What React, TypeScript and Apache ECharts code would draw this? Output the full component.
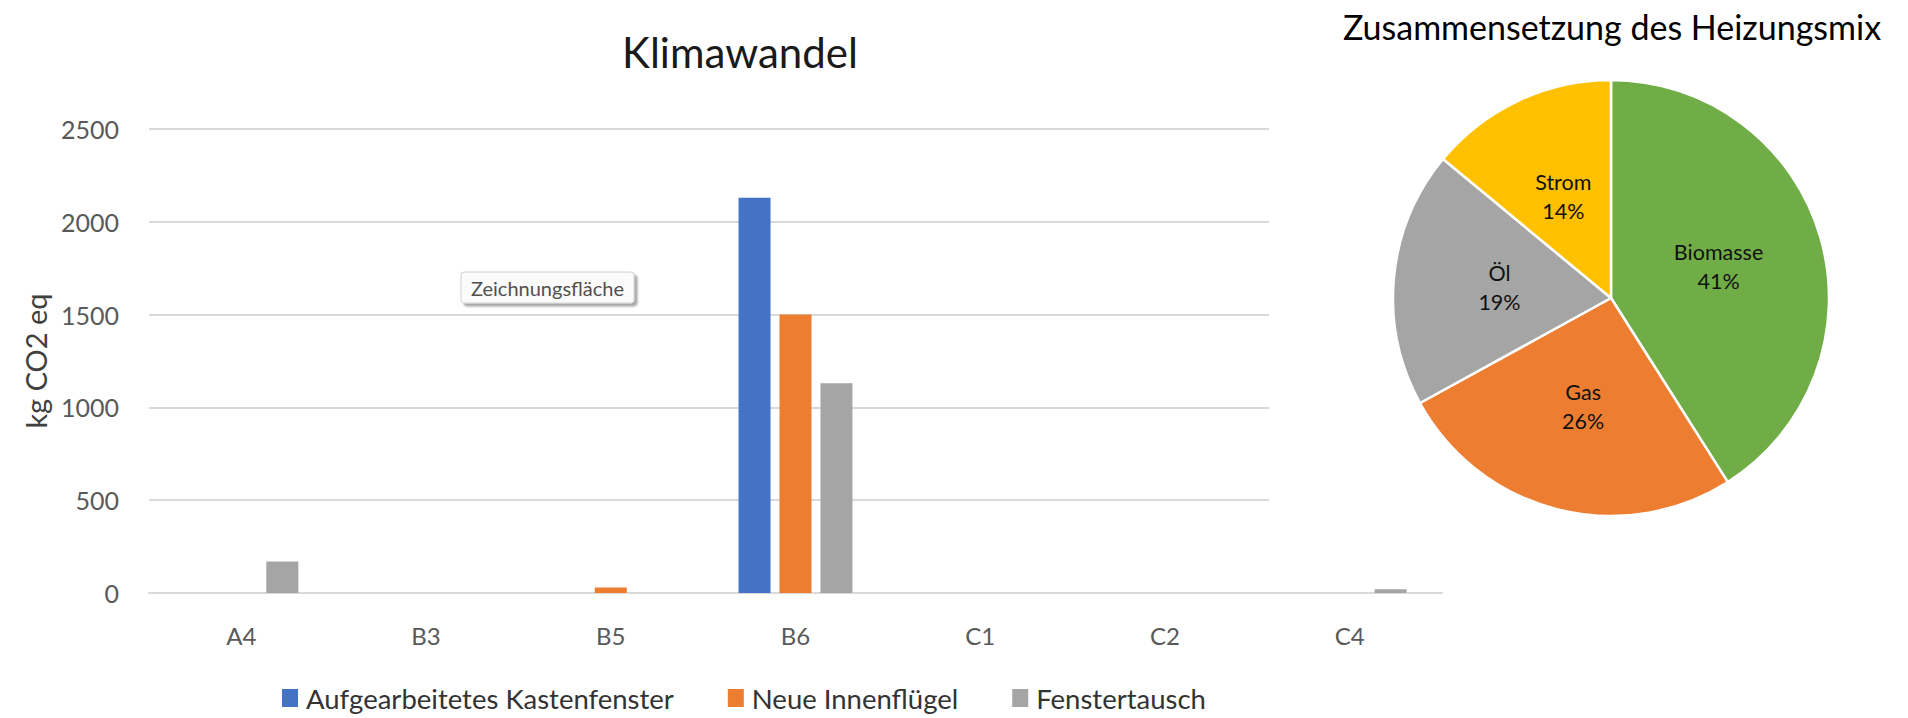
import { useEffect, useRef } from "react";
import * as echarts from "echarts";

// Klimawandel: emissions per building component (kg CO2 eq)
const categories = ["A4", "B3", "B5", "B6", "C1", "C2", "C4"];
const kastenfenster = [0, 0, 0, 2130, 0, 0, 0];
const innenfluegel = [0, 0, 30, 1500, 0, 0, 0];
const fenstertausch = [170, 0, 0, 1130, 0, 0, 20];
const seriesNames = ["Aufgearbeitetes Kastenfenster", "Neue Innenflügel", "Fenstertausch"];
const yMin = 0;
const yMax = 2500;
const yStep = 500;

// Heating mix shares (%)
const heatingSources = ["Biomasse", "Gas", "Öl", "Strom"];
const heatingShares = [41, 26, 19, 14];

const FONT = "Lato, 'Open Sans', sans-serif";
const barColors = ["#4472C4", "#ED7D31", "#A5A5A5"];
const pieColors = ["#70AD47", "#ED7D31", "#A5A5A5", "#FFC000"];

function hint(x: number, y: number, w: number, h: number, label: string, size: number) {
  return {
    type: "group",
    x,
    y,
    z: 100,
    children: [
      {
        type: "rect",
        shape: { x: 0, y: 0, width: w, height: h, r: 3 },
        style: {
          fill: "#fbfbfb",
          stroke: "#d0d0d0",
          lineWidth: 1,
          shadowBlur: 2,
          shadowOffsetX: 3,
          shadowOffsetY: 3,
          shadowColor: "rgba(0,0,0,0.35)",
        },
      },
      {
        type: "text",
        x: w / 2,
        y: h / 2,
        style: {
          text: label,
          font: `${size}px ${FONT}`,
          fill: "#505050",
          align: "center",
          verticalAlign: "middle",
        },
      },
    ],
  };
}

export default function App() {
  const ref = useRef<HTMLDivElement>(null);

  useEffect(() => {
    if (!ref.current) return;
    const chart = echarts.init(ref.current, undefined, { renderer: "svg" });
    const barData = [kastenfenster, innenfluegel, fenstertausch];

    chart.setOption({
      animation: false,
      backgroundColor: "#ffffff",
      textStyle: { fontFamily: FONT },
      title: [
        {
          text: "Klimawandel",
          left: 735,
          top: 26,
          textAlign: "center",
          textStyle: { fontSize: 42, fontWeight: "normal", color: "#1a1a1a", fontFamily: FONT },
        },
        {
          text: "Zusammensetzung des Heizungsmix",
          left: 1607,
          top: 4,
          textAlign: "center",
          textStyle: { fontSize: 34, fontWeight: "normal", color: "#000000", fontFamily: FONT },
        },
      ],
      legend: {
        left: 277,
        top: 679,
        itemWidth: 16,
        itemHeight: 18,
        itemGap: 54,
        icon: "rect",
        data: seriesNames,
        textStyle: { fontSize: 27.5, color: "#333333", fontFamily: FONT, padding: [0, 0, 0, 3] },
      },
      grid: { left: 149, right: 466, top: 129, bottom: 125, containLabel: false },
      xAxis: {
        type: "category",
        data: categories,
        axisTick: { show: false },
        axisLine: { lineStyle: { color: "#d9d9d9", width: 2 } },
        axisLabel: { color: "#595959", fontSize: 24, margin: 30, fontFamily: FONT },
      },
      yAxis: {
        type: "value",
        min: yMin,
        max: yMax,
        interval: yStep,
        name: "kg CO2 eq",
        nameLocation: "middle",
        nameGap: 97,
        nameRotate: 90,
        nameTextStyle: { fontSize: 29, color: "#404040", fontFamily: FONT },
        axisLine: { show: false },
        axisTick: { show: false },
        axisLabel: {
          color: "#595959",
          fontSize: 25,
          margin: 30,
          fontFamily: FONT,
          formatter: (v: number) => String(v),
        },
        splitLine: { lineStyle: { color: "#d9d9d9", width: 2 } },
      },
      graphic: [
        // plot area of the pie chart, laid over the right part of the bar chart
        {
          type: "rect",
          z: 1,
          silent: true,
          shape: { x: 1269, y: 0, width: 639, height: 585 },
          style: { fill: "#ffffff" },
        },
        hint(461, 272, 173, 31, "Zeichnungsfläche", 20),
        hint(1300, 169, 134, 25, "Diagrammbereich", 15),
      ],
      series: [
        ...seriesNames.map((name, i) => ({
          type: "bar",
          name,
          data: barData[i],
          barWidth: 32,
          barGap: "28%",
          itemStyle: { color: barColors[i] },
          emphasis: { disabled: true },
        })),
        {
          type: "pie",
          z: 5,
          center: [1611, 298],
          radius: 218,
          startAngle: 90,
          clockwise: true,
          percentPrecision: 0,
          data: heatingSources.map((name, i) => ({
            name,
            value: heatingShares[i],
            itemStyle: { color: pieColors[i] },
          })),
          itemStyle: { borderColor: "#ffffff", borderWidth: 2.5 },
          label: {
            show: true,
            position: "inside",
            formatter: "{b}\n{d}%",
            fontSize: 21.5,
            lineHeight: 29,
            color: "#111111",
            fontFamily: FONT,
          },
          labelLine: { show: false },
          emphasis: { disabled: true },
        },
      ],
    });

    return () => chart.dispose();
  }, []);

  return (
    <div
      ref={ref}
      style={{ position: "fixed", left: 0, top: 0, width: 1908, height: 718, background: "#fff" }}
    />
  );
}
